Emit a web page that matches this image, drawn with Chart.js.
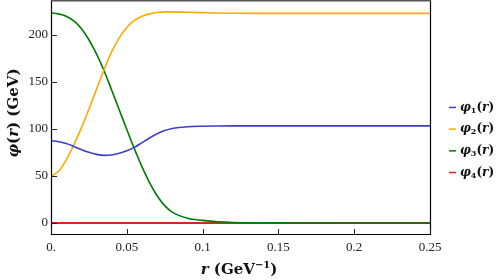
<!DOCTYPE html>
<html>
<head>
<meta charset="utf-8">
<script src="https://cdn.jsdelivr.net/npm/chart.js@4.4.1/dist/chart.umd.min.js"></script>
<style>
  html, body { margin: 0; padding: 0; background: #fff; }
  #wrap { width: 498px; height: 280px; position: relative; }
</style>
</head>
<body>
<div id="wrap"><canvas id="myChart" width="498" height="280"></canvas></div>
<script>
// values
var rValues = [0, 0.005, 0.01, 0.015, 0.02, 0.025, 0.03, 0.035, 0.04, 0.045, 0.05, 0.055, 0.06, 0.065, 0.07, 0.075, 0.08, 0.09, 0.1, 0.11, 0.12, 0.14, 0.16, 0.2, 0.25];
var phi1 = [87.5, 86.5, 84.5, 81.5, 78.2, 75.2, 73, 72, 72.4, 74.2, 76.8, 80.5, 85.5, 90.5, 95, 98.3, 100.5, 102.4, 103, 103.2, 103.3, 103.3, 103.3, 103.3, 103.3];
var phi2 = [50, 55, 67, 83, 101, 121, 142, 163, 182, 197, 208, 215.5, 220, 222.5, 224, 224.6, 224.6, 224.2, 223.8, 223.4, 223.2, 223, 223, 223, 223];
var phi3 = [223.5, 222.5, 220, 215, 207, 195, 180, 162, 141.5, 120.5, 99.5, 79, 60, 43, 29, 18.5, 11.5, 5, 2.8, 1.3, 0.6, 0.2, 0.1, 0, 0];
var phi4 = [0, 0, 0, 0, 0, 0, 0, 0, 0, 0, 0, 0, 0, 0, 0, 0, 0, 0, 0, 0, 0, 0, 0, 0, 0];

var seriesIndex = ['1', '2', '3', '4'];
var seriesColors = ['#3c3cd2', '#ffaa00', '#007a00', '#e61e1e'];

var xTicks = [0, 0.05, 0.1, 0.15, 0.2, 0.25];
var xTickLabels = ['0.', '0.05', '0.1', '0.15', '0.2', '0.25'];
var yTicks = [0, 50, 100, 150, 200];
var yTickLabels = ['0', '50', '100', '150', '200'];

var SERIF = '"Liberation Serif", "DejaVu Serif", serif';
var WIDE = '"DejaVu Serif", serif';

function toPoints(ys)
{
	var pts = [];
	for (var i = 0; i < rValues.length; i++)
	{
		pts.push({x: rValues[i], y: ys[i]});
	}
	return pts;
}

// draws a list of text pieces one after another
function drawParts(ctx, parts, x, y, align)
{
	var total = 0;
	for (var i = 0; i < parts.length; i++)
	{
		ctx.font = parts[i].font;
		total += ctx.measureText(parts[i].t).width;
	}
	var cx = align === 'center' ? x - total / 2 : x;
	for (var j = 0; j < parts.length; j++)
	{
		ctx.font = parts[j].font;
		ctx.fillText(parts[j].t, cx, y + (parts[j].dy || 0));
		cx += ctx.measureText(parts[j].t).width;
	}
}

var decor = {
	id: 'decor',
	afterDraw: function (chart)
	{
		var ctx = chart.ctx;
		var a = chart.chartArea;
		var xs = chart.scales.x;
		var ys = chart.scales.y;
		ctx.save();

		// frame
		ctx.strokeStyle = '#000';
		ctx.lineWidth = 1.2;
		ctx.beginPath();
		ctx.moveTo(a.left + 0.5, 0);
		ctx.lineTo(a.left + 0.5, a.bottom + 0.5);
		ctx.lineTo(a.right + 0.5, a.bottom + 0.5);
		ctx.lineTo(a.right + 0.5, 0);
		ctx.stroke();
		ctx.strokeStyle = '#555';
		ctx.lineWidth = 2;
		ctx.beginPath();
		ctx.moveTo(a.left, 0.5);
		ctx.lineTo(a.right + 1, 0.5);
		ctx.stroke();

		// inward ticks
		ctx.strokeStyle = '#222';
		ctx.lineWidth = 1;
		ctx.beginPath();
		xTicks.forEach(function (v)
		{
			var px = Math.round(xs.getPixelForValue(v)) + 0.5;
			ctx.moveTo(px, a.bottom);
			ctx.lineTo(px, a.bottom - 5);
		});
		yTicks.forEach(function (v)
		{
			var py = Math.round(ys.getPixelForValue(v)) + 0.5;
			ctx.moveTo(a.left, py);
			ctx.lineTo(a.left + 6, py);
		});
		ctx.stroke();

		// axis titles
		ctx.fillStyle = '#111';
		ctx.textBaseline = 'alphabetic';
		var B = 'bold 15px ' + WIDE;
		var BI = 'italic bold 15px ' + WIDE;
		drawParts(ctx, [
			{t: 'r', font: BI},
			{t: ' (GeV', font: B},
			{t: '\u22121', font: 'bold 10px ' + WIDE, dy: -6},
			{t: ')', font: B}
		], 239, 274, 'center');

		ctx.save();
		ctx.translate(18, 113);
		ctx.rotate(-Math.PI / 2);
		drawParts(ctx, [
			{t: '\u03c6', font: BI},
			{t: '(', font: B},
			{t: 'r', font: BI},
			{t: ') (GeV)', font: B}
		], 0, 0, 'center');
		ctx.restore();

		// legend
		var mid = chart.height / 2;
		for (var i = 0; i < seriesIndex.length; i++)
		{
			var ly = mid + (i - 1.5) * 21.7;
			ctx.strokeStyle = seriesColors[i];
			ctx.lineWidth = 1.5;
			ctx.beginPath();
			ctx.moveTo(449, ly);
			ctx.lineTo(456, ly);
			ctx.stroke();
			ctx.fillStyle = '#111';
			ctx.textBaseline = 'middle';
			drawParts(ctx, [
				{t: '\u03c6', font: 'italic bold 12px ' + WIDE},
				{t: seriesIndex[i], font: 'bold 8px ' + WIDE, dy: 3},
				{t: '(', font: 'bold 12px ' + WIDE},
				{t: 'r', font: 'italic bold 12px ' + WIDE},
				{t: ')', font: 'bold 12px ' + WIDE}
			], 460, ly, 'left');
		}
		ctx.restore();
	}
};

var datasets = [phi1, phi2, phi3, phi4].map(function (ys, i)
{
	return {
		label: '\u03c6' + seriesIndex[i] + '(r)',
		data: toPoints(ys),
		borderColor: seriesColors[i],
		borderWidth: i === 3 ? 2.2 : 1.6,
		pointRadius: 0,
		fill: false,
		cubicInterpolationMode: 'monotone'
	};
});

var ctx = document.getElementById('myChart');
var myChart = new Chart(ctx, {
	type: 'line',
	data: { datasets: datasets },
	plugins: [decor],
	options: {
		responsive: false,
		animation: false,
		layout: { padding: { left: 0, right: 68, top: 1, bottom: 0 } },
		plugins: { legend: { display: false }, tooltip: { enabled: false } },
		scales: {
			x: {
				type: 'linear',
				min: 0,
				max: 0.25,
				afterBuildTicks: function (s) { s.ticks = xTicks.map(function (v) { return {value: v}; }); },
				afterFit: function (s) { s.height = 46; s.paddingLeft = 0; s.paddingRight = 0; },
				grid: { display: false, drawTicks: false },
				border: { display: false },
				ticks: {
					padding: 6,
					color: '#222',
					font: { family: SERIF, size: 13 },
					maxRotation: 0,
					callback: function (v) { return xTickLabels[xTicks.indexOf(v)]; }
				}
			},
			y: {
				min: -11.7,
				max: 236.2,
				afterBuildTicks: function (s) { s.ticks = yTicks.map(function (v) { return {value: v}; }); },
				afterFit: function (s) { s.width = 51; s.paddingTop = 0; s.paddingBottom = 0; },
				grid: { display: false, drawTicks: false },
				border: { display: false },
				ticks: {
					padding: 3,
					color: '#222',
					font: { family: SERIF, size: 13 },
					callback: function (v) { return yTickLabels[yTicks.indexOf(v)]; }
				}
			}
		}
	}
});
</script>
</body>
</html>
